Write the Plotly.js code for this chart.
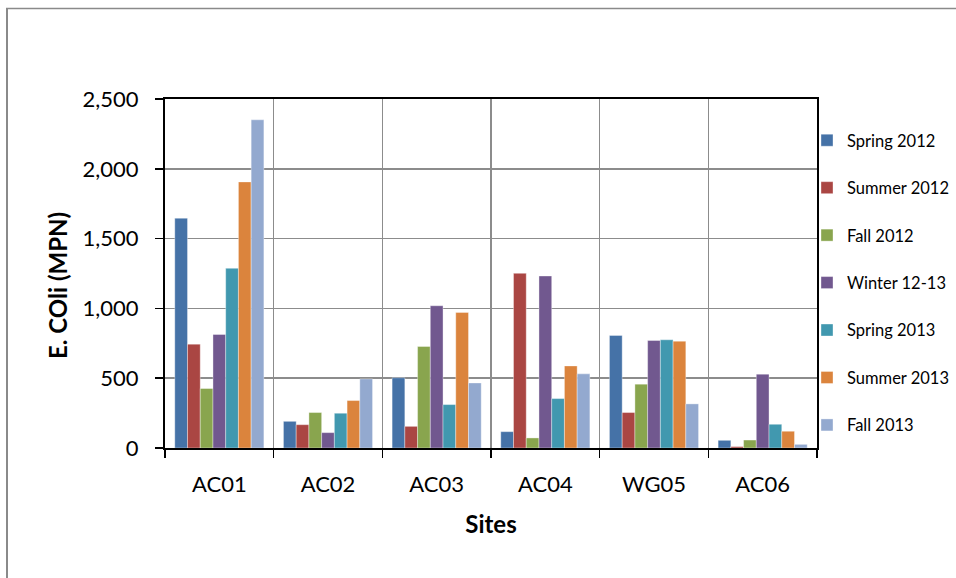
<!DOCTYPE html>
<html>
<head>
<meta charset="utf-8">
<script src="https://cdn.plot.ly/plotly-3.0.1.min.js"></script>
<style>
  html, body { margin: 0; padding: 0; background: #ffffff; }
  #chart { width: 956px; height: 578px; }
</style>
</head>
<body>
<div id="chart"></div>
<script>
const sites = ["AC01", "AC02", "AC03", "AC04", "WG05", "AC06"];
const seriesNames = ["Spring 2012", "Summer 2012", "Fall 2012", "Winter 12-13", "Spring 2013", "Summer 2013", "Fall 2013"];
const spring2012 = [1646, 191, 503, 117, 806, 55];
const summer2012 = [744, 167, 155, 1251, 254, 10];
const fall2012   = [426, 254, 727, 72, 457, 57];
const winter1213 = [813, 110, 1019, 1232, 770, 529];
const spring2013 = [1287, 249, 311, 354, 775, 170];
const summer2013 = [1906, 340, 971, 588, 765, 120];
const fall2013   = [2351, 495, 466, 531, 316, 26];
const yTickVals = [0, 500, 1000, 1500, 2000, 2500];
const yTickText = ["0", "500", "1,000", "1,500", "2,000", "2,500"];
const xTitle = "Sites";
const yTitle = "E. COli (MPN)";

const seriesValues = [spring2012, summer2012, fall2012, winter1213, spring2013, summer2013, fall2013];
const colors = ["#4572A7", "#AA4643", "#89A54E", "#71588F", "#4198AF", "#DB843D", "#93A9CF"];

const font = "Lato, 'Open Sans', 'DejaVu Sans', sans-serif";

const traces = seriesNames.map((name, i) => ({
  type: "bar",
  name: name,
  x: sites,
  y: seriesValues[i],
  legendgroup: "g" + i,
  marker: { color: colors[i], line: { color: "rgba(255,255,255,0.45)", width: 0.8 } },
  hoverinfo: "x+y+name"
}));

const W = 956, H = 578;
const L = 165, R = 817, T = 99, B = 448;
const pw = R - L, ph = B - T;
const px = v => (v - L) / pw;
const py = v => (B - v) / ph;

const layout = {
  width: W,
  height: H,
  margin: { l: L, r: W - R, t: T, b: H - B, pad: 0, autoexpand: false },
  paper_bgcolor: "#ffffff",
  plot_bgcolor: "#ffffff",
  barmode: "group",
  bargap: 0.18,
  bargroupgap: 0,
  font: { family: font, color: "#000000" },
  showlegend: true,
  legend: {
    xref: "container", yref: "container",
    x: 807 / W, xanchor: "left",
    y: 1 - 123 / H, yanchor: "top",
    maxheight: 440,
    font: { family: font, size: 16.5, color: "#000000" },
    tracegroupgap: 23,
    itemwidth: 30,
    bgcolor: "rgba(0,0,0,0)"
  },
  xaxis: {
    type: "category",
    tickson: "boundaries",
    showgrid: true,
    gridcolor: "#8c8c8c",
    gridwidth: 1.5,
    ticks: "outside",
    ticklen: 8,
    tickwidth: 1.5,
    tickcolor: "#000000",
    ticklabelstandoff: 16,
    showline: true,
    linecolor: "#000000",
    linewidth: 2,
    mirror: true,
    tickfont: { family: font, size: 22, color: "#000000" },
    title: { text: xTitle, font: { family: font, size: 24, color: "#000000", weight: "bold" }, standoff: 20 },
    automargin: false,
    fixedrange: true
  },
  yaxis: {
    range: [0, 2500],
    tickvals: yTickVals,
    ticktext: yTickText,
    showgrid: true,
    gridcolor: "#8c8c8c",
    gridwidth: 1.5,
    zeroline: false,
    ticks: "outside",
    ticklen: 8,
    tickwidth: 1.5,
    tickcolor: "#000000",
    ticklabelstandoff: 12,
    showline: true,
    linecolor: "#000000",
    linewidth: 2,
    mirror: true,
    tickfont: { family: font, size: 22, color: "#000000" },
    automargin: false,
    fixedrange: true
  },
  annotations: [
    {
      text: yTitle, xref: "paper", yref: "paper",
      x: px(57), y: py(286), xanchor: "center", yanchor: "middle",
      textangle: -90, showarrow: false,
      font: { family: font, size: 24, color: "#000000", weight: "bold" }
    }
  ],
  shapes: [
    { type: "line", xref: "paper", yref: "paper", x0: px(7), x1: px(7), y0: py(8), y1: py(600), line: { color: "#8a8a8a", width: 2 }, layer: "below" },
    { type: "line", xref: "paper", yref: "paper", x0: px(6), x1: px(980), y0: py(8.5), y1: py(8.5), line: { color: "#8a8a8a", width: 1.5 }, layer: "below" }
  ]
};

Plotly.newPlot("chart", traces, layout, { displayModeBar: false, staticPlot: true });
</script>
</body>
</html>
